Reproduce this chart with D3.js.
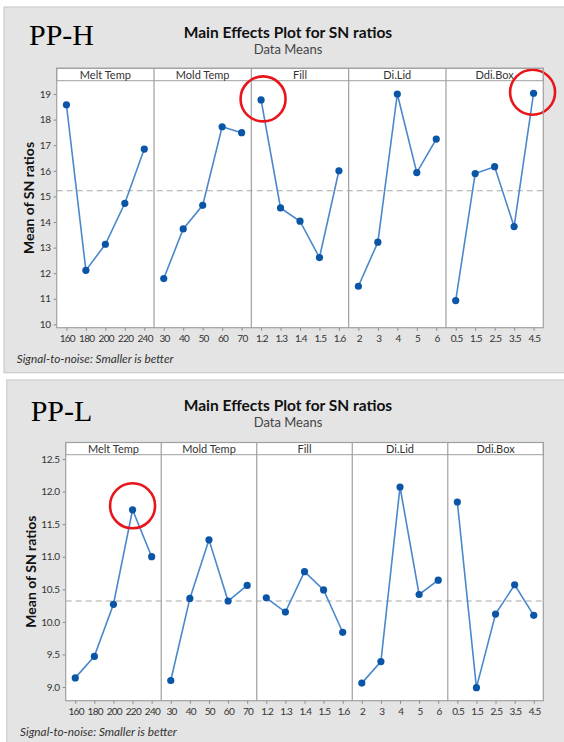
<!DOCTYPE html>
<html><head><meta charset="utf-8">
<script src="https://cdn.jsdelivr.net/npm/d3@7"></script>
<style>html,body{margin:0;padding:0;background:#fff;}svg{display:block;}</style>
</head><body>
<script>
// ---------- DATA ----------
const factors = ["Melt Temp", "Mold Temp", "Fill", "Di.Lid", "Ddi.Box"];
const levelsMelt = ["160", "180", "200", "220", "240"];
const levelsMold = ["30", "40", "50", "60", "70"];
const levelsFill = ["1.2", "1.3", "1.4", "1.5", "1.6"];
const levelsLid = ["2", "3", "4", "5", "6"];
const levelsBox = ["0.5", "1.5", "2.5", "3.5", "4.5"];

// PP-H series
const hMelt = [18.58, 12.11, 13.13, 14.73, 16.85];
const hMold = [11.79, 13.73, 14.65, 17.72, 17.49];
const hFill = [18.77, 14.55, 14.03, 12.61, 16.00];
const hLid  = [11.49, 13.21, 19.00, 15.93, 17.24];
const hBox  = [10.93, 15.89, 16.16, 13.82, 19.03];
const hMean = 15.22;
const hTicks = [10, 11, 12, 13, 14, 15, 16, 17, 18, 19];

// PP-L series
const lMelt = [9.14, 9.47, 10.27, 11.72, 11.00];
const lMold = [9.10, 10.36, 11.26, 10.32, 10.56];
const lFill = [10.37, 10.15, 10.77, 10.49, 9.84];
const lLid  = [9.06, 9.39, 12.07, 10.42, 10.64];
const lBox  = [11.84, 8.99, 10.12, 10.57, 10.10];
const lMean = 10.32;
const lTicks = [9.0, 9.5, 10.0, 10.5, 11.0, 11.5, 12.0, 12.5];

const levels = [levelsMelt, levelsMold, levelsFill, levelsLid, levelsBox];

// ---------- DRAW ----------
const W = 564, H = 742;
const svg = d3.select("body").append("svg").attr("width", W).attr("height", H);
const FONT = "Lato, 'Open Sans', sans-serif";

function drawChart(o) {
  const g = svg.append("g");
  g.append("rect").attr("x", o.box[0]).attr("y", o.box[1])
    .attr("width", o.box[2]).attr("height", o.box[3])
    .attr("fill", "#e4e4e4").attr("stroke", "#cdcdcd").attr("stroke-width", 1.2);

  g.append("text").attr("x", o.label[0]).attr("y", o.label[1])
    .attr("font-family", "'Liberation Serif', 'Times New Roman', serif")
    .attr("font-size", 30).attr("fill", "#000").text(o.name);

  g.append("text").attr("x", 288).attr("y", o.titleY)
    .attr("text-anchor", "middle").attr("font-family", FONT)
    .attr("font-weight", "bold").attr("font-size", 15.5).attr("fill", "#111")
    .text("Main Effects Plot for SN ratios");
  g.append("text").attr("x", 288).attr("y", o.titleY + 16.7)
    .attr("text-anchor", "middle").attr("font-family", FONT)
    .attr("font-size", 13).attr("fill", "#444").text("Data Means");

  const left = o.left, right = o.right, hTop = o.hTop, pTop = o.pTop, pBot = o.pBot;
  const pw = (right - left) / factors.length;
  const y = d3.scaleLinear().domain(o.yDomain).range([pBot, pTop]);

  g.append("rect").attr("x", left).attr("y", pTop).attr("width", right - left)
    .attr("height", pBot - pTop).attr("fill", "#fff");
  g.append("rect").attr("x", left).attr("y", hTop).attr("width", right - left)
    .attr("height", pTop - hTop).attr("fill", "#fff").attr("stroke", "#a0a0a0").attr("stroke-width", 1);

  g.append("line").attr("x1", left).attr("x2", right)
    .attr("y1", y(o.mean)).attr("y2", y(o.mean))
    .attr("stroke", "#a8a8a8").attr("stroke-width", 1.2).attr("stroke-dasharray", "6,4");

  const line = d3.line();
  factors.forEach((f, i) => {
    const x0 = left + i * pw;
    const x = d3.scalePoint().domain(levels[i]).range([x0, x0 + pw]).padding(0.5);
    g.append("text").attr("x", x0 + pw / 2).attr("y", hTop + (pTop - hTop) / 2 + 4)
      .attr("text-anchor", "middle").attr("font-family", FONT)
      .attr("font-size", 11).attr("fill", "#333").text(f);
    if (i > 0) {
      g.append("line").attr("x1", x0).attr("x2", x0).attr("y1", hTop).attr("y2", pBot)
        .attr("stroke", "#a0a0a0").attr("stroke-width", 1.2);
    }
    const ax = g.append("g").attr("transform", `translate(0,${pBot})`)
      .call(d3.axisBottom(x).tickSize(3).tickPadding(4));
    ax.select(".domain").remove();
    ax.selectAll(".tick line").attr("stroke", "#888");
    ax.selectAll(".tick text").attr("font-family", FONT).attr("font-size", 10)
      .attr("letter-spacing", "-0.7px").attr("dx", "0.35px").attr("fill", "#333");

    const vals = o.series[i];
    const pts = vals.map((v, k) => [x(levels[i][k]), y(v)]);
    g.append("path").attr("d", line(pts)).attr("fill", "none")
      .attr("stroke", "#4a88cc").attr("stroke-width", 1.6);
    g.selectAll(null).data(pts).enter().append("circle")
      .attr("cx", d => d[0]).attr("cy", d => d[1]).attr("r", 3.6).attr("fill", "#0a55a6");

    o.circles.filter(c => c.f === i).forEach(c => {
      g.append("circle").attr("cx", pts[c.k][0] + c.dx).attr("cy", pts[c.k][1] + c.dy)
        .attr("r", 22.5).attr("fill", "none").attr("stroke", "#e8151b").attr("stroke-width", 2.6);
    });
  });

  const ay = g.append("g").attr("transform", `translate(${left},0)`)
    .call(d3.axisLeft(y).tickValues(o.ticks).tickFormat(o.fmt).tickSize(3).tickPadding(3));
  ay.select(".domain").remove();
  ay.selectAll(".tick line").attr("stroke", "#888");
  ay.selectAll(".tick text").attr("font-family", FONT).attr("font-size", 10)
    .attr("letter-spacing", "-0.3px").attr("fill", "#333");

  g.append("rect").attr("x", left).attr("y", hTop).attr("width", right - left)
    .attr("height", pBot - hTop).attr("fill", "none").attr("stroke", "#a0a0a0").attr("stroke-width", 1.2);

  g.append("text").attr("transform", `translate(${o.yTitleX},${(hTop + pBot) / 2}) rotate(-90)`)
    .attr("text-anchor", "middle").attr("dominant-baseline", "central")
    .attr("font-family", FONT).attr("font-weight", "bold").attr("font-size", 14).attr("fill", "#111")
    .text("Mean of SN ratios");

  g.append("text").attr("x", o.note[0]).attr("y", o.note[1])
    .attr("font-family", FONT).attr("font-style", "italic").attr("font-size", 11.8).attr("fill", "#333")
    .text("Signal-to-noise: Smaller is better");
}

drawChart({
  box: [4, 7, 570, 365.7], label: [29, 45], name: "PP-H", titleY: 37.7,
  left: 56.7, right: 543.3, hTop: 68.3, pTop: 80.7, pBot: 327.7,
  yDomain: [9.87, 19.52], ticks: hTicks, fmt: d3.format("d"), mean: hMean,
  series: [hMelt, hMold, hFill, hLid, hBox], yTitleX: 28, note: [16.7, 363.3],
  circles: [{f: 2, k: 0, dx: 2, dy: -1}, {f: 4, k: 4, dx: -1, dy: -1}]
});

drawChart({
  box: [6.7, 380, 570, 380], label: [30.7, 421], name: "PP-L", titleY: 410.5,
  left: 65.7, right: 543.3, hTop: 442.5, pTop: 454.7, pBot: 700.7,
  yDomain: [8.79, 12.566], ticks: lTicks, fmt: d3.format(".1f"), mean: lMean,
  series: [lMelt, lMold, lFill, lLid, lBox], yTitleX: 30, note: [20, 736],
  circles: [{f: 0, k: 3, dx: 0, dy: -4}]
});
</script>
</body></html>
